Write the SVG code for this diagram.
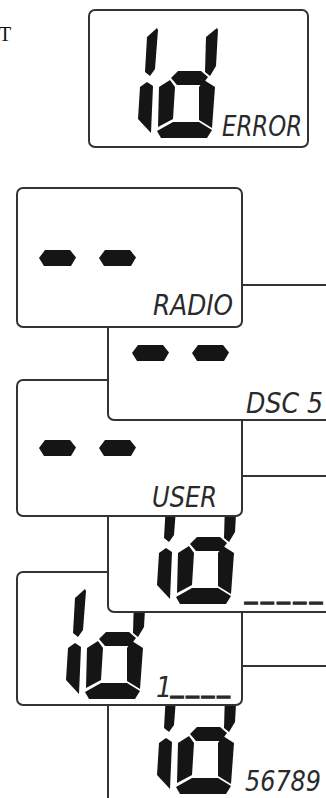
<svg xmlns="http://www.w3.org/2000/svg" xmlns:xlink="http://www.w3.org/1999/xlink" width="326" height="798" viewBox="0 0 326 798">
<style>
.box{fill:#fff;stroke:#333;stroke-width:2}
.seg{fill:#151515}
.lcd{font-family:"Liberation Sans Narrow","DejaVu Sans Condensed","DejaVu Sans",sans-serif;font-style:italic;font-size:28px;fill:#2a2a2a}
.us{font-family:"DejaVu Sans","Liberation Sans",sans-serif;font-size:24px;fill:#2a2a2a;stroke:#2a2a2a;stroke-width:1.6}
.serif{font-family:"Liberation Serif","Times New Roman",serif;font-size:20px;fill:#111}
</style>
<defs>
<g id="idglyph" class="seg">
<polygon points="147,37 157,28 158,30 155,69 150,76 145,72"/>
<polygon points="140,87 147,82 153,86 151,133 138,119"/>
<polygon points="206,37 217,28 218,30 216,66 210,76 205,72"/>
<polygon points="171,78 178,71 201,71 208,77 202,85 177,85"/>
<polygon points="159,87 170,80 175,87 173,119 158,127"/>
<polygon points="199,87 204,80 215,87 212,128 199,120"/>
<polygon points="157,131 173,122 199,122 212,130 207,138 161,138"/>
</g>
<polygon id="dash" class="seg" points="0,8 6,0 31,0 37,7.5 32,16 5,16"/>
</defs>

<text class="serif" x="-1" y="41">T</text>

<g id="box7">
<rect class="box" x="108" y="666" width="260" height="150" rx="6"/>
<use xlink:href="#idglyph" transform="translate(19,656)"/>
<text class="lcd" x="245" y="791" font-size="25" textLength="76" lengthAdjust="spacingAndGlyphs">56789</text>
</g>

<g id="box6">
<rect class="box" x="17" y="572" width="225" height="133" rx="6"/>
<use xlink:href="#idglyph" transform="translate(-72,561)"/>
<text class="lcd" x="156" y="697" font-size="24">1</text>
<text class="us" x="171 186.5 202 217.5" y="692" font-size="22">____</text>
</g>

<g id="box5">
<rect class="box" x="108" y="476" width="260" height="136" rx="6"/>
<use xlink:href="#idglyph" transform="translate(19,466)"/>
<text class="us" x="245" y="598" textLength="77" lengthAdjust="spacing">_____</text>
</g>

<g id="box4">
<rect class="box" x="17" y="380" width="225" height="136" rx="6"/>
<use xlink:href="#dash" x="39" y="440"/>
<use xlink:href="#dash" x="99" y="440"/>
<text class="lcd" x="152" y="507" textLength="65" lengthAdjust="spacingAndGlyphs">USER</text>
</g>

<g id="box3">
<rect class="box" x="108" y="285" width="260" height="135" rx="6"/>
<use xlink:href="#dash" x="132" y="345"/>
<use xlink:href="#dash" x="192" y="345"/>
<text class="lcd" x="246" y="413" textLength="77" lengthAdjust="spacingAndGlyphs">DSC 5</text>
</g>

<g id="box2">
<rect class="box" x="17" y="188" width="225" height="139" rx="6"/>
<use xlink:href="#dash" x="39" y="250"/>
<use xlink:href="#dash" x="99" y="250"/>
<text class="lcd" x="153" y="315" textLength="80" lengthAdjust="spacingAndGlyphs">RADIO</text>
</g>

<g id="box1">
<rect class="box" x="89" y="10" width="219" height="137" rx="6"/>
<use xlink:href="#idglyph"/>
<text class="lcd" x="222" y="136" textLength="80" lengthAdjust="spacingAndGlyphs">ERROR</text>
</g>
</svg>
